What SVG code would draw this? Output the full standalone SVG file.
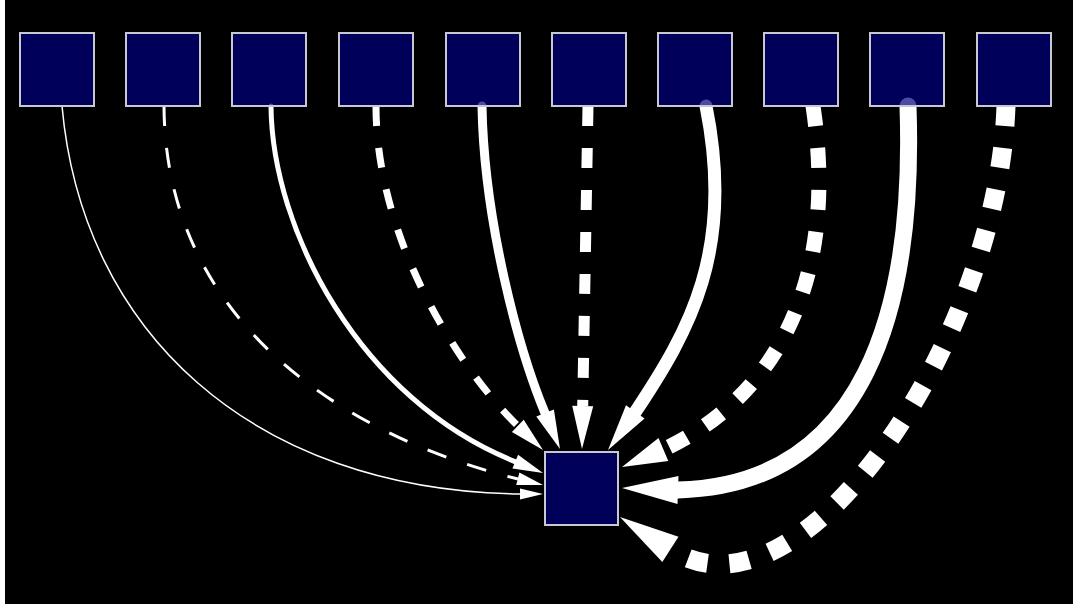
<svg xmlns="http://www.w3.org/2000/svg" width="1073" height="604" viewBox="0 0 1073 604">
<style>
.bg{fill:#000}
.node rect{fill:#000080;fill-opacity:0.7;stroke:#c8c8d0;stroke-width:2}
.edge{fill:none;stroke:#fff}
.solid{stroke-linecap:round}
.dash{stroke-dasharray:20 22;stroke-linecap:butt}
.arrow{fill:#fff;stroke:none}
</style>
<rect x="0" y="0" width="1073" height="604" fill="#fff"/>
<rect class="bg" x="5" y="0" width="1068" height="604"/>
<g id="connectors">
<path class="edge solid" stroke-width="1.5" d="M62,106 C82,330 250,490 520,494"/>
<polygon class="arrow" points="543,494 520,488.5 520,499.5"/>
<path class="edge dash" stroke-width="3" d="M164,106 C165,330 358,440 518,479"/>
<polygon class="arrow" points="543,485 516.2,485.1 519.4,472.5"/>
<path class="edge solid" stroke-width="5" d="M271,106 C272,230 360,400 515,461.6"/>
<polygon class="arrow" points="543,473 512.4,468.5 518.1,454.7"/>
<path class="edge dash" stroke-width="7" d="M376,106 C376,240 460,370 518,426"/>
<polygon class="arrow" points="543,450 511.9,432 523.7,419.7"/>
<path class="edge solid" stroke-width="9" d="M482,106 C484,220 518,348 545,413"/>
<polygon class="arrow" points="560,449 536.3,416.6 553.9,409.4"/>
<path class="edge dash" stroke-width="11" d="M588,106 L582.7,406"/>
<polygon class="arrow" points="582,449 572.2,405.8 593.2,406.2"/>
<path class="edge solid" stroke-width="13" d="M706,106 C735,250 690,330 635.3,412"/>
<polygon class="arrow" points="608,450 626,405.2 644.6,418.6"/>
<path class="edge dash" stroke-width="15" d="M813,106 C842,300 760,405 663.4,449.5"/>
<polygon class="arrow" points="622,467 658.5,438 668.3,461"/>
<path class="edge solid" stroke-width="17" d="M908,106 C915,310 865,485 678,490"/>
<polygon class="arrow" points="622,488 678.5,476 677.5,504"/>
<path class="edge dash" stroke-width="19" d="M1006,106 C998,340 801,634 670.4,549.4"/>
<polygon class="arrow" points="620,517 678.5,536.8 662.3,562"/>
</g>
<g id="n1" class="node"><rect x="20" y="33" width="74" height="73"/></g>
<g id="n2" class="node"><rect x="126" y="33" width="74" height="73"/></g>
<g id="n3" class="node"><rect x="232" y="33" width="74" height="73"/></g>
<g id="n4" class="node"><rect x="339" y="33" width="74" height="73"/></g>
<g id="n5" class="node"><rect x="446" y="33" width="74" height="73"/></g>
<g id="n6" class="node"><rect x="552" y="33" width="74" height="73"/></g>
<g id="n7" class="node"><rect x="658" y="33" width="74" height="73"/></g>
<g id="n8" class="node"><rect x="764" y="33" width="74" height="73"/></g>
<g id="n9" class="node"><rect x="870" y="33" width="74" height="73"/></g>
<g id="n10" class="node"><rect x="977" y="33" width="74" height="73"/></g>
<g id="target" class="node"><rect x="545" y="452" width="73" height="73"/></g>
</svg>
